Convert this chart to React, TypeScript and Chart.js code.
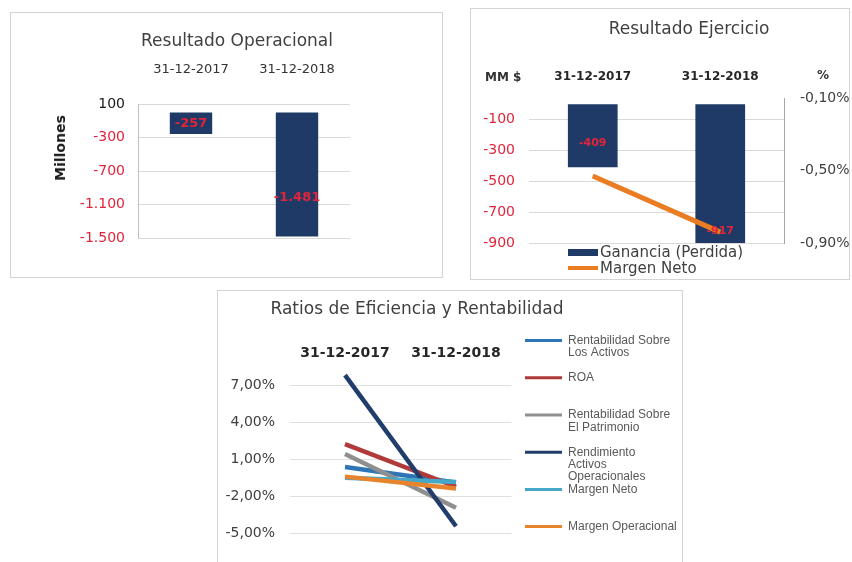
import React, { useEffect, useRef } from 'react';
import { Chart, registerables } from 'chart.js';

Chart.register(...registerables);
Chart.defaults.font.family = "'DejaVu Sans', sans-serif";

// ---------- data ----------
const categories = ['31-12-2017', '31-12-2018'];

// Resultado Operacional (millones)
const resultadoOperacional = [-257, -1481];
const operacionalTicks = [100, -300, -700, -1100, -1500];

// Resultado Ejercicio
const gananciaPerdida = [-409, -917];
const margenNetoEjercicio = [-0.53, -0.84];
const ejercicioTicks = [-100, -300, -500, -700, -900];
const margenTicks = [-0.1, -0.5, -0.9];

// Ratios de Eficiencia y Rentabilidad (%)
const rentabilidadActivos = [0.35, -0.9];
const roa = [2.2, -1.25];
const rentabilidadPatrimonio = [1.4, -2.95];
const rendimientoActivosOp = [7.8, -4.45];
const margenNeto = [-0.53, -0.86];
const margenOperacional = [-0.43, -1.4];
const ratioTicks = [7, 4, 1, -2, -5];
const ratioNames = [
  ['Rentabilidad Sobre', 'Los Activos'],
  ['ROA'],
  ['Rentabilidad Sobre', 'El Patrimonio'],
  ['Rendimiento', 'Activos', 'Operacionales'],
  ['Margen Neto'],
  ['Margen Operacional'],
];
const ratioColors = ['#2e75b6', '#b03a3a', '#8f8f8f', '#213d6b', '#45a8c8', '#e8842c'];

// ---------- helpers ----------
const NAVY = '#1f3a66';
const ORANGE = '#ea7d22';
const RED = '#e2243a';
const FONT = "'DejaVu Sans', sans-serif";

function fmtInt(v: number) {
  const s = Math.round(Math.abs(v)).toString().replace(/\B(?=(\d{3})+(?!\d))/g, '.');
  return (v < 0 ? '-' : '') + s;
}
function fmtPct(v: number) {
  return v.toFixed(2).replace('.', ',') + '%';
}

function makeBarLabels(fractions: number[], size: number) {
  return {
    id: 'barLabels',
    afterDatasetsDraw(chart: any) {
      const { ctx } = chart;
      chart.data.datasets.forEach((ds: any, di: number) => {
        const meta = chart.getDatasetMeta(di);
        if (meta.type !== 'bar') return;
        meta.data.forEach((el: any, i: number) => {
          const { x, y, base } = el.getProps(['x', 'y', 'base'], true);
          const f = fractions[i] ?? 0.5;
          const ty = base + (y - base) * f;
          ctx.save();
          ctx.font = `bold ${size}px ${FONT}`;
          ctx.fillStyle = RED;
          ctx.textAlign = 'center';
          ctx.textBaseline = 'middle';
          ctx.fillText(fmtInt(ds.data[i]), x, ty);
          ctx.restore();
        });
      });
    },
  };
}

// an invisible axis used only to reserve horizontal room in the layout
function spacerAxis(width: number) {
  return {
    type: 'linear',
    position: 'right',
    display: true,
    grid: { display: false, drawTicks: false },
    ticks: { display: false },
    border: { display: false },
    afterFit: (s: any) => {
      s.width = width;
    },
  };
}

function ChartBox(props: { left: number; top: number; width: number; height: number; make: () => any }) {
  const ref = useRef<HTMLCanvasElement>(null);
  useEffect(() => {
    const chart = new Chart(ref.current as HTMLCanvasElement, props.make());
    return () => chart.destroy();
  }, []);
  return (
    <canvas
      ref={ref}
      width={props.width}
      height={props.height}
      style={{ position: 'absolute', left: props.left, top: props.top, width: props.width, height: props.height, display: 'block' }}
    />
  );
}

// ---------- chart configs ----------
const makeOperacional = () => ({
  type: 'bar',
  data: {
    labels: categories,
    datasets: [
      {
        label: 'Resultado Operacional',
        data: resultadoOperacional,
        backgroundColor: NAVY,
        categoryPercentage: 0.4,
        barPercentage: 1,
      },
    ],
  },
  options: {
    responsive: false,
    animation: false,
    devicePixelRatio: 1,
    layout: { padding: { left: 59, right: 38, top: 0, bottom: 39 } },
    plugins: {
      legend: { display: false },
      tooltip: { enabled: false },
      title: {
        display: true,
        text: 'Resultado Operacional',
        color: '#404040',
        font: { size: 17, weight: 'normal' },
        padding: { top: 18.8, bottom: 0 },
      },
    },
    scales: {
      x: {
        position: 'top',
        grid: { display: false, drawTicks: false },
        border: { display: false },
        ticks: { padding: 26.2, color: '#333333', font: { size: 13 } },
        afterFit: (s: any) => {
          s.height = 51.8;
        },
      },
      y: {
        min: -1500,
        max: 100,
        afterBuildTicks: (s: any) => {
          s.ticks = operacionalTicks.map((v) => ({ value: v }));
        },
        afterFit: (s: any) => {
          s.width = 68;
        },
        ticks: {
          padding: 13,
          font: { size: 14 },
          color: (c: any) => (c.tick && c.tick.value < 0 ? RED : '#1a1a1a'),
          callback: (v: any) => fmtInt(Number(v)),
        },
        grid: { color: '#d9d9d9', drawTicks: false },
        border: { color: '#bfbfbf' },
      },
      gap: spacerAxis(54),
    },
  },
  plugins: [makeBarLabels([0.5, 0.69], 13)],
});

const makeEjercicio = () => ({
  type: 'bar',
  data: {
    labels: categories,
    datasets: [
      {
        type: 'bar',
        label: 'Ganancia (Perdida)',
        data: gananciaPerdida,
        backgroundColor: NAVY,
        categoryPercentage: 0.39,
        barPercentage: 1,
        yAxisID: 'y',
        order: 2,
      },
      {
        type: 'line',
        label: 'Margen Neto',
        data: margenNetoEjercicio,
        borderColor: ORANGE,
        backgroundColor: ORANGE,
        borderWidth: 5,
        pointRadius: 0,
        yAxisID: 'y2',
        order: 1,
      },
    ],
  },
  options: {
    responsive: false,
    animation: false,
    devicePixelRatio: 1,
    layout: { padding: { left: 7, right: 11, top: 0, bottom: 36 } },
    plugins: {
      legend: { display: false },
      tooltip: { enabled: false },
      title: {
        display: true,
        text: 'Resultado Ejercicio',
        color: '#404040',
        font: { size: 17, weight: 'normal' },
        padding: { top: 10.8, bottom: 0 },
      },
    },
    scales: {
      x: {
        position: 'top',
        grid: { display: false, drawTicks: false },
        border: { display: false },
        ticks: { padding: 13.8, color: '#262626', font: { size: 12, weight: 'bold' } },
        afterFit: (s: any) => {
          s.height = 57.8;
        },
      },
      y: {
        position: 'left',
        min: -900,
        max: 40,
        afterBuildTicks: (s: any) => {
          s.ticks = ejercicioTicks.map((v) => ({ value: v }));
        },
        afterFit: (s: any) => {
          s.width = 51;
        },
        ticks: { padding: 14, font: { size: 14 }, color: RED, callback: (v: any) => fmtInt(Number(v)) },
        grid: { color: '#d9d9d9', drawTicks: false },
        border: { display: false },
      },
      y2: {
        position: 'right',
        min: -0.9,
        max: -0.1,
        afterBuildTicks: (s: any) => {
          s.ticks = margenTicks.map((v) => ({ value: v }));
        },
        afterFit: (s: any) => {
          s.width = 116;
        },
        ticks: { padding: 16, font: { size: 14 }, color: '#404040', callback: (v: any) => fmtPct(Number(v)) },
        grid: { drawOnChartArea: false, drawTicks: false },
        border: { color: '#a6a6a6' },
      },
    },
  },
  plugins: [makeBarLabels([0.62, 0.9], 11)],
});

const ratioData = [rentabilidadActivos, roa, rentabilidadPatrimonio, rendimientoActivosOp, margenNeto, margenOperacional];

const makeRatios = () => ({
  type: 'line',
  data: {
    labels: categories,
    datasets: ratioData.map((d, i) => ({
      label: ratioNames[i].join(' '),
      data: d,
      borderColor: ratioColors[i],
      backgroundColor: ratioColors[i],
      borderWidth: 4.5,
      pointRadius: 0,
      fill: false,
      order: ratioData.length - i,
    })),
  },
  options: {
    responsive: false,
    animation: false,
    devicePixelRatio: 1,
    layout: { padding: { left: 7, right: 2, top: 0, bottom: 29 } },
    plugins: {
      tooltip: { enabled: false },
      title: {
        display: true,
        text: 'Ratios de Eficiencia y Rentabilidad',
        color: '#404040',
        font: { size: 17, weight: 'normal' },
        padding: { top: 8.8, bottom: 0 },
      },
      legend: {
        display: true,
        position: 'right',
        align: 'end',
        maxWidth: 156,
        labels: {
          usePointStyle: true,
          pointStyleWidth: 37,
          padding: 0,
          color: '#595959',
          font: { family: "'Liberation Sans', sans-serif", size: 12, lineHeight: 1.0333 },
          generateLabels: (chart: any) =>
            chart.data.datasets.map((ds: any, i: number) => {
              const lines = ratioNames[i].slice();
              if (i < ratioNames.length - 1) while (lines.length < 3) lines.push('');
              return {
                text: lines,
                fillStyle: ds.borderColor,
                strokeStyle: ds.borderColor,
                lineWidth: 3,
                pointStyle: 'line',
                hidden: false,
                datasetIndex: i,
                fontColor: '#595959',
              };
            }),
        },
      },
    },
    scales: {
      x: {
        position: 'top',
        offset: true,
        grid: { display: false, drawTicks: false },
        border: { display: false },
        ticks: { padding: 1.4, color: '#262626', font: { size: 14, weight: 'bold' } },
        afterFit: (s: any) => {
          s.height = 42.6;
        },
      },
      y: {
        min: -5,
        max: 8.8,
        afterBuildTicks: (s: any) => {
          s.ticks = ratioTicks.map((v) => ({ value: v }));
        },
        afterFit: (s: any) => {
          s.width = 136.5;
        },
        ticks: { padding: 14.5, font: { size: 14 }, color: '#404040', callback: (v: any) => fmtPct(Number(v)) },
        grid: { color: '#e0e0e0', drawTicks: false },
        border: { display: false },
      },
      gap: spacerAxis(13.5),
    },
  },
});

const panel = (left: number, top: number, width: number, height: number): React.CSSProperties => ({
  position: 'absolute',
  left,
  top,
  width,
  height,
  boxSizing: 'border-box',
  border: '1px solid #d4d4d4',
  background: '#ffffff',
});

export default function App() {
  const legend2 = [
    { label: 'Ganancia (Perdida)', color: NAVY, h: 7 },
    { label: 'Margen Neto', color: ORANGE, h: 4 },
  ];
  return (
    <div
      style={{
        position: 'fixed',
        left: 0,
        top: 0,
        width: 852,
        height: 562,
        overflow: 'hidden',
        background: '#ffffff',
        fontFamily: FONT,
      }}
    >
      <div style={panel(10, 12, 433, 266)} />
      <div style={panel(470, 8, 380, 272)} />
      <div style={panel(217, 290, 466, 280)} />

      <ChartBox left={11} top={13} width={431} height={264} make={makeOperacional} />
      <ChartBox left={471} top={9} width={440} height={270} make={makeEjercicio} />
      <ChartBox left={146} top={291} width={537} height={271} make={makeRatios} />

      <div
        style={{
          position: 'absolute',
          left: 60,
          top: 148,
          transform: 'translate(-50%, -50%) rotate(-90deg)',
          fontWeight: 'bold',
          fontSize: 14,
          color: '#1a1a1a',
          whiteSpace: 'nowrap',
        }}
      >
        Millones
      </div>
      <div
        style={{
          position: 'absolute',
          left: 485,
          top: 77,
          transform: 'translateY(-50%)',
          fontWeight: 'bold',
          fontSize: 12,
          color: '#333333',
          whiteSpace: 'nowrap',
        }}
      >
        MM $
      </div>
      <div
        style={{
          position: 'absolute',
          left: 823,
          top: 75,
          transform: 'translate(-50%, -50%)',
          fontWeight: 'bold',
          fontSize: 12,
          color: '#333333',
        }}
      >
        %
      </div>
      <div style={{ position: 'absolute', left: 568, top: 244 }}>
        {legend2.map((it) => (
          <div key={it.label} style={{ display: 'flex', alignItems: 'center', height: 16 }}>
            <div style={{ width: 30, height: it.h, background: it.color, marginRight: 2 }} />
            <span style={{ fontSize: 15, color: '#404040', lineHeight: '16px', whiteSpace: 'nowrap' }}>{it.label}</span>
          </div>
        ))}
      </div>
    </div>
  );
}
